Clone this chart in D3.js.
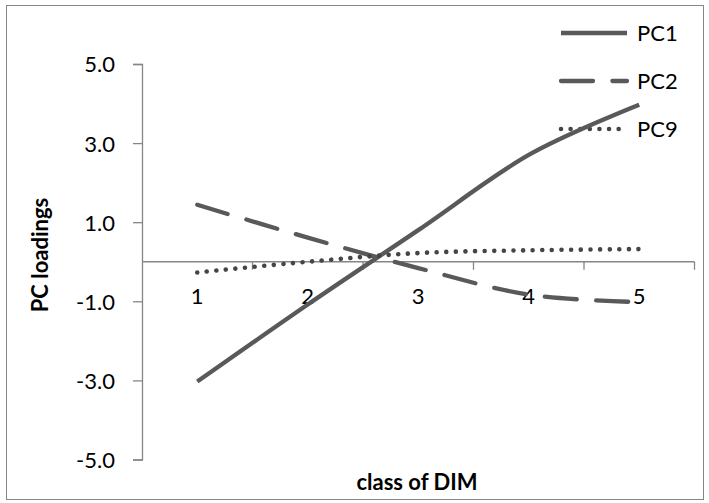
<!DOCTYPE html>
<html><head><meta charset="utf-8">
<script src="https://cdn.jsdelivr.net/npm/d3@7"></script>
<style>body{margin:0;background:#fff}svg{display:block}text{font-family:Lato,"Open Sans",sans-serif}</style>
</head><body>
<svg id="c" width="709" height="503"></svg>
<script>
const categories = ["1","2","3","4","5"];
const pc1 = [-3.03, -1.08, 0.80, 2.70, 3.97];
const pc2 = [1.44, 0.61, -0.16, -0.83, -1.02];
const pc9 = [-0.27, 0.00, 0.22, 0.29, 0.32];
const yTicks = [5, 3, 1, -1, -3, -5];
const seriesNames = ["PC1", "PC2", "PC9"];

const svg = d3.select("#c");
const gray = "#595959", axisGray = "#868686";

svg.append("rect").attr("x",6.5).attr("y",5.5).attr("width",697).attr("height",494)
  .attr("fill","#fff").attr("stroke",axisGray).attr("stroke-width",1);

const x = d3.scaleBand().domain(categories).range([142, 694.5]).padding(0);
const y = d3.scaleLinear().domain([-5, 5]).range([459.5, 64]);
const cx = c => x(c) + x.bandwidth()/2;

// Y axis
const yAxis = svg.append("g").attr("transform","translate(142,0)")
  .call(d3.axisLeft(y).tickValues(yTicks).tickSize(9).tickPadding(18).tickFormat(d3.format(".1f")));
yAxis.select(".domain").attr("stroke",axisGray).attr("stroke-width",1.3);
yAxis.selectAll(".tick line").attr("stroke",axisGray).attr("stroke-width",1.3);
yAxis.selectAll(".tick text").attr("font-size",22).attr("fill","#000").attr("dy","0.36em")
  .text(d => d3.format(".1f")(d).replace("−","-"));

// X axis at y=0
const xg = svg.append("g").attr("transform",`translate(0,${y(0)})`);
xg.append("line").attr("x1",x.range()[0]).attr("x2",x.range()[1]).attr("stroke",axisGray).attr("stroke-width",1.3);
xg.selectAll("line.t").data(categories).join("line").attr("class","t")
  .attr("x1",d=>x(d)+x.bandwidth()).attr("x2",d=>x(d)+x.bandwidth())
  .attr("y1",0).attr("y2",8).attr("stroke",axisGray).attr("stroke-width",1.3);
xg.selectAll("text").data(categories).join("text")
  .attr("x",d=>cx(d)).attr("y",42).attr("text-anchor","middle").attr("font-size",22).text(d=>d);

// Titles
svg.append("text").attr("x",417).attr("y",490).attr("text-anchor","middle")
  .attr("font-size",22).attr("font-weight","bold").text("class of DIM");
svg.append("text").attr("transform","translate(48,255) rotate(-90)").attr("text-anchor","middle")
  .attr("font-size",22).attr("font-weight","bold").text("PC loadings");

const styles = [
  {dash:null, cap:"butt", w:4.3, c:gray},
  {dash:"32 19.4", cap:"round", w:4.3, c:gray},
  {dash:"0.01 9.6", cap:"round", w:4.6, c:"#454545"}
];
const data = [pc1, pc2, pc9];

// Legend
const lg = svg.append("g");
seriesNames.forEach((n,i)=>{
  const ly = 33 + i*48;
  lg.append("line").attr("x1",561).attr("x2",627).attr("y1",ly).attr("y2",ly)
    .attr("stroke",styles[i].c).attr("stroke-width",styles[i].w).attr("stroke-linecap",styles[i].cap)
    .attr("stroke-dasharray",styles[i].dash);
  lg.append("text").attr("x",637).attr("y",ly).attr("dy","0.36em").attr("font-size",22).text(n);
});

// Lines
const line = d3.line().x((d,i)=>cx(categories[i])).y(d=>y(d)).curve(d3.curveCardinal.tension(0));
data.forEach((vals,i)=>{
  svg.append("path").datum(vals).attr("d",line).attr("fill","none")
    .attr("stroke",styles[i].c).attr("stroke-width",styles[i].w).attr("stroke-linecap",styles[i].cap)
    .attr("stroke-dasharray",styles[i].dash);
});
</script>
</body></html>
